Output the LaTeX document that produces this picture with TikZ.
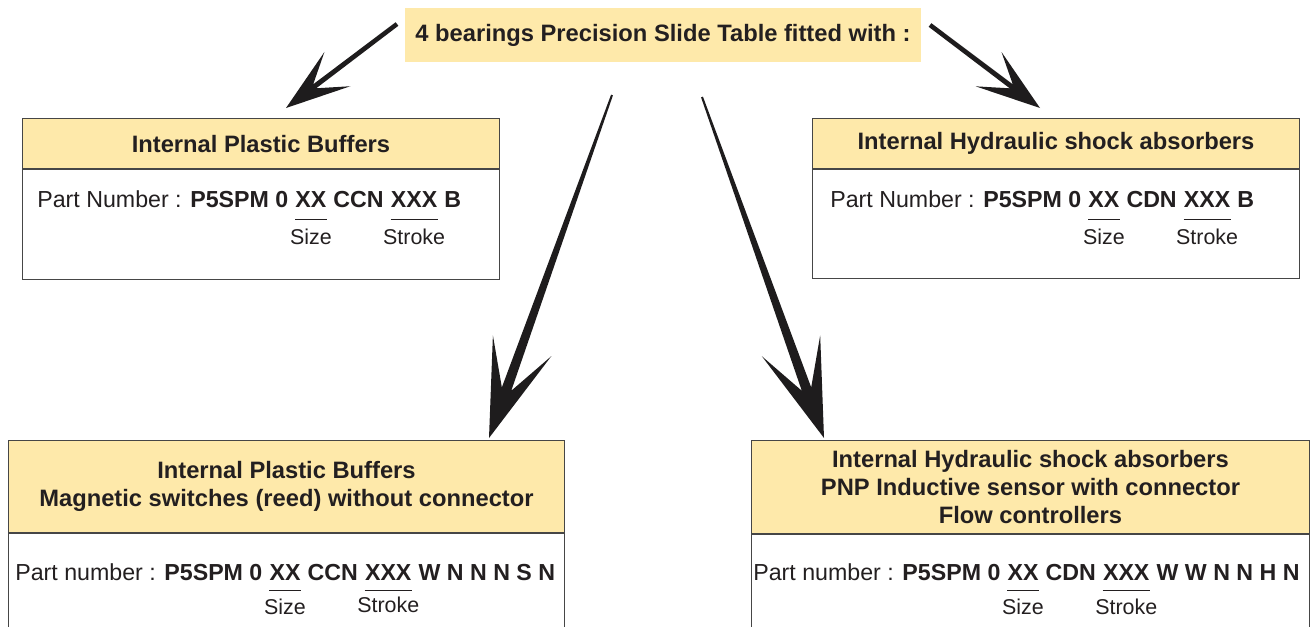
\documentclass[tikz,border=0pt]{standalone}
\usepackage{fontspec}
\setmainfont{Liberation Sans}
\usetikzlibrary{positioning,calc}
\definecolor{hdryellow}{RGB}{254,233,170}
\definecolor{rulegray}{RGB}{70,70,70}
\definecolor{arrowink}{RGB}{30,28,29}
\definecolor{txtdark}{RGB}{35,31,32}
\newcommand\hdfont{\fontsize{13.5}{15.9}\selectfont}
\newcommand\pnfont{\fontsize{13.2}{15.9}\selectfont}
\newcommand\tagfont{\fontsize{12.2}{14}\selectfont}
% swept arrow: start, tip, head length, head half width, notch, shaft half width at notch, at start
\newcommand\sweeparrow[7]{%
  \coordinate (#2-b) at ($(#2)!#3!(#1)$);
  \coordinate (#2-n) at ($(#2)!#5!(#1)$);
  \fill[arrowink] (#2) -- ($(#2-b)!#4!90:(#1)$) -- ($(#2-n)!#6!90:(#1)$)
    -- ($(#1)!#7!-90:(#2)$) -- ($(#1)!#7!90:(#2)$)
    -- ($(#2-n)!#6!-90:(#1)$) -- ($(#2-b)!#4!-90:(#1)$) -- cycle;
}

\begin{document}
\begin{tikzpicture}[x=0.02cm,y=-0.02cm,
  hdr/.style={draw=rulegray,fill=hdryellow,line width=0.6pt,text=txtdark,
    font=\hdfont\bfseries,align=center,anchor=north west,inner sep=0pt},
  bodybox/.style={draw=rulegray,line width=0.6pt,anchor=north west,inner sep=0pt},
  pn/.style={inner sep=0pt,anchor=base west,text=txtdark,font=\pnfont},
  tag/.style={inner sep=0pt,text=txtdark,font=\tagfont},
  ovl/.style={draw=txtdark,line width=0.9pt}
]
  \useasboundingbox (0,0) rectangle (1310,626);
  \clip (0,0) rectangle (1310,626);

  \node[fill=hdryellow,text=txtdark,font=\hdfont\bfseries,minimum width=10.32cm,
    minimum height=1.08cm,inner sep=0pt] (title) at (663,35)
    {4 bearings Precision Slide Table fitted with :};

  % top left
  \node[hdr,minimum width=9.54cm,minimum height=1cm] (plastic) at (22,118) {Internal Plastic Buffers};
  \node[bodybox,minimum width=9.54cm,minimum height=2.2cm] (plasticbody) at (plastic.south west) {};
  \node[pn] (p1a) at (37,207) {Part Number : \textbf{P5SPM 0\ }\hbox{}};
  \node[pn] (p1x) at (p1a.base east) {\textbf{XX}};
  \node[pn] (p1b) at (p1x.base east) {\textbf{\ CCN\ }\hbox{}};
  \node[pn] (p1y) at (p1b.base east) {\textbf{XXX}};
  \node[pn] (p1c) at (p1y.base east) {\textbf{\ B}};
  \draw[ovl] ($(p1x.south west)+(0,12)$) -- ($(p1x.south east)+(0,12)$);
  \draw[ovl] ($(p1y.south west)+(0,12)$) -- ($(p1y.south east)+(0,12)$);
  \node[tag,below=0.42cm of p1x] (p1s) {Size};
  \node[tag,below=0.42cm of p1y] (p1t) {Stroke};

  % top right
  \node[hdr,minimum width=9.74cm,minimum height=1cm] (hydro) at (812,118) {Internal Hydraulic shock absorbers};
  \node[bodybox,minimum width=9.74cm,minimum height=2.18cm] (hydrobody) at (hydro.south west) {};
  \node[pn] (p2a) at (830,207) {Part Number : \textbf{P5SPM 0\ }\hbox{}};
  \node[pn] (p2x) at (p2a.base east) {\textbf{XX}};
  \node[pn] (p2b) at (p2x.base east) {\textbf{\ CDN\ }\hbox{}};
  \node[pn] (p2y) at (p2b.base east) {\textbf{XXX}};
  \node[pn] (p2c) at (p2y.base east) {\textbf{\ B}};
  \draw[ovl] ($(p2x.south west)+(0,12)$) -- ($(p2x.south east)+(0,12)$);
  \draw[ovl] ($(p2y.south west)+(0,12)$) -- ($(p2y.south east)+(0,12)$);
  \node[tag,below=0.42cm of p2x] (p2s) {Size};
  \node[tag,below=0.42cm of p2y] (p2t) {Stroke};

  % bottom left
  \node[hdr,minimum width=11.12cm,minimum height=1.84cm] (reed) at (8,440)
    {Internal Plastic Buffers\\Magnetic switches (reed) without connector};
  \node[bodybox,minimum width=11.12cm,minimum height=2.2cm] (reedbody) at (reed.south west) {};
  \node[pn] (p3a) at (15,580) {Part number : \textbf{P5SPM 0\ }\hbox{}};
  \node[pn] (p3x) at (p3a.base east) {\textbf{XX}};
  \node[pn] (p3b) at (p3x.base east) {\textbf{\ CCN\ }\hbox{}};
  \node[pn] (p3y) at (p3b.base east) {\textbf{XXX}};
  \node[pn] (p3c) at (p3y.base east) {\textbf{\ W N N N S N}};
  \draw[ovl] ($(p3x.south west)+(0,10)$) -- ($(p3x.south east)+(0,10)$);
  \draw[ovl] ($(p3y.south west)+(0,10)$) -- ($(p3y.south east)+(0,10)$);
  \node[tag,below=0.36cm of p3x] (p3s) {Size};
  \node[tag,below=0.32cm of p3y] (p3t) {Stroke};

  % bottom right
  \node[hdr,minimum width=11.16cm,minimum height=1.86cm] (sensor) at (751,440)
    {Internal Hydraulic shock absorbers\\PNP Inductive sensor with connector\\Flow controllers};
  \node[bodybox,minimum width=11.16cm,minimum height=2.2cm] (sensorbody) at (sensor.south west) {};
  \node[pn] (p4a) at (753,580) {Part number : \textbf{P5SPM 0\ }\hbox{}};
  \node[pn] (p4x) at (p4a.base east) {\textbf{XX}};
  \node[pn] (p4b) at (p4x.base east) {\textbf{\ CDN\ }\hbox{}};
  \node[pn] (p4y) at (p4b.base east) {\textbf{XXX}};
  \node[pn] (p4c) at (p4y.base east) {\textbf{\ W W N N H N}};
  \draw[ovl] ($(p4x.south west)+(0,10)$) -- ($(p4x.south east)+(0,10)$);
  \draw[ovl] ($(p4y.south west)+(0,10)$) -- ($(p4y.south east)+(0,10)$);
  \node[tag,below=0.36cm of p4x] (p4s) {Size};
  \node[tag,below=0.36cm of p4y] (p4t) {Stroke};

  % arrows
  \coordinate (tlstart) at (397,24);
  \coordinate (tltip) at (286,108);
  \coordinate (trstart) at (930,25);
  \coordinate (trtip) at (1040,108);
  \coordinate (blstart) at (612,95);
  \coordinate (bltip) at (489,438);
  \coordinate (brstart) at (702,97);
  \coordinate (brtip) at (824,438);
  \sweeparrow{tlstart}{tltip}{1.29cm}{0.43cm}{0.72cm}{0.05cm}{0.045cm}
  \sweeparrow{trstart}{trtip}{1.29cm}{0.43cm}{0.72cm}{0.05cm}{0.045cm}
  \sweeparrow{blstart}{bltip}{1.96cm}{0.62cm}{1.04cm}{0.1cm}{0.02cm}
  \sweeparrow{brstart}{brtip}{1.96cm}{0.62cm}{1.04cm}{0.1cm}{0.02cm}
\end{tikzpicture}
\end{document}
